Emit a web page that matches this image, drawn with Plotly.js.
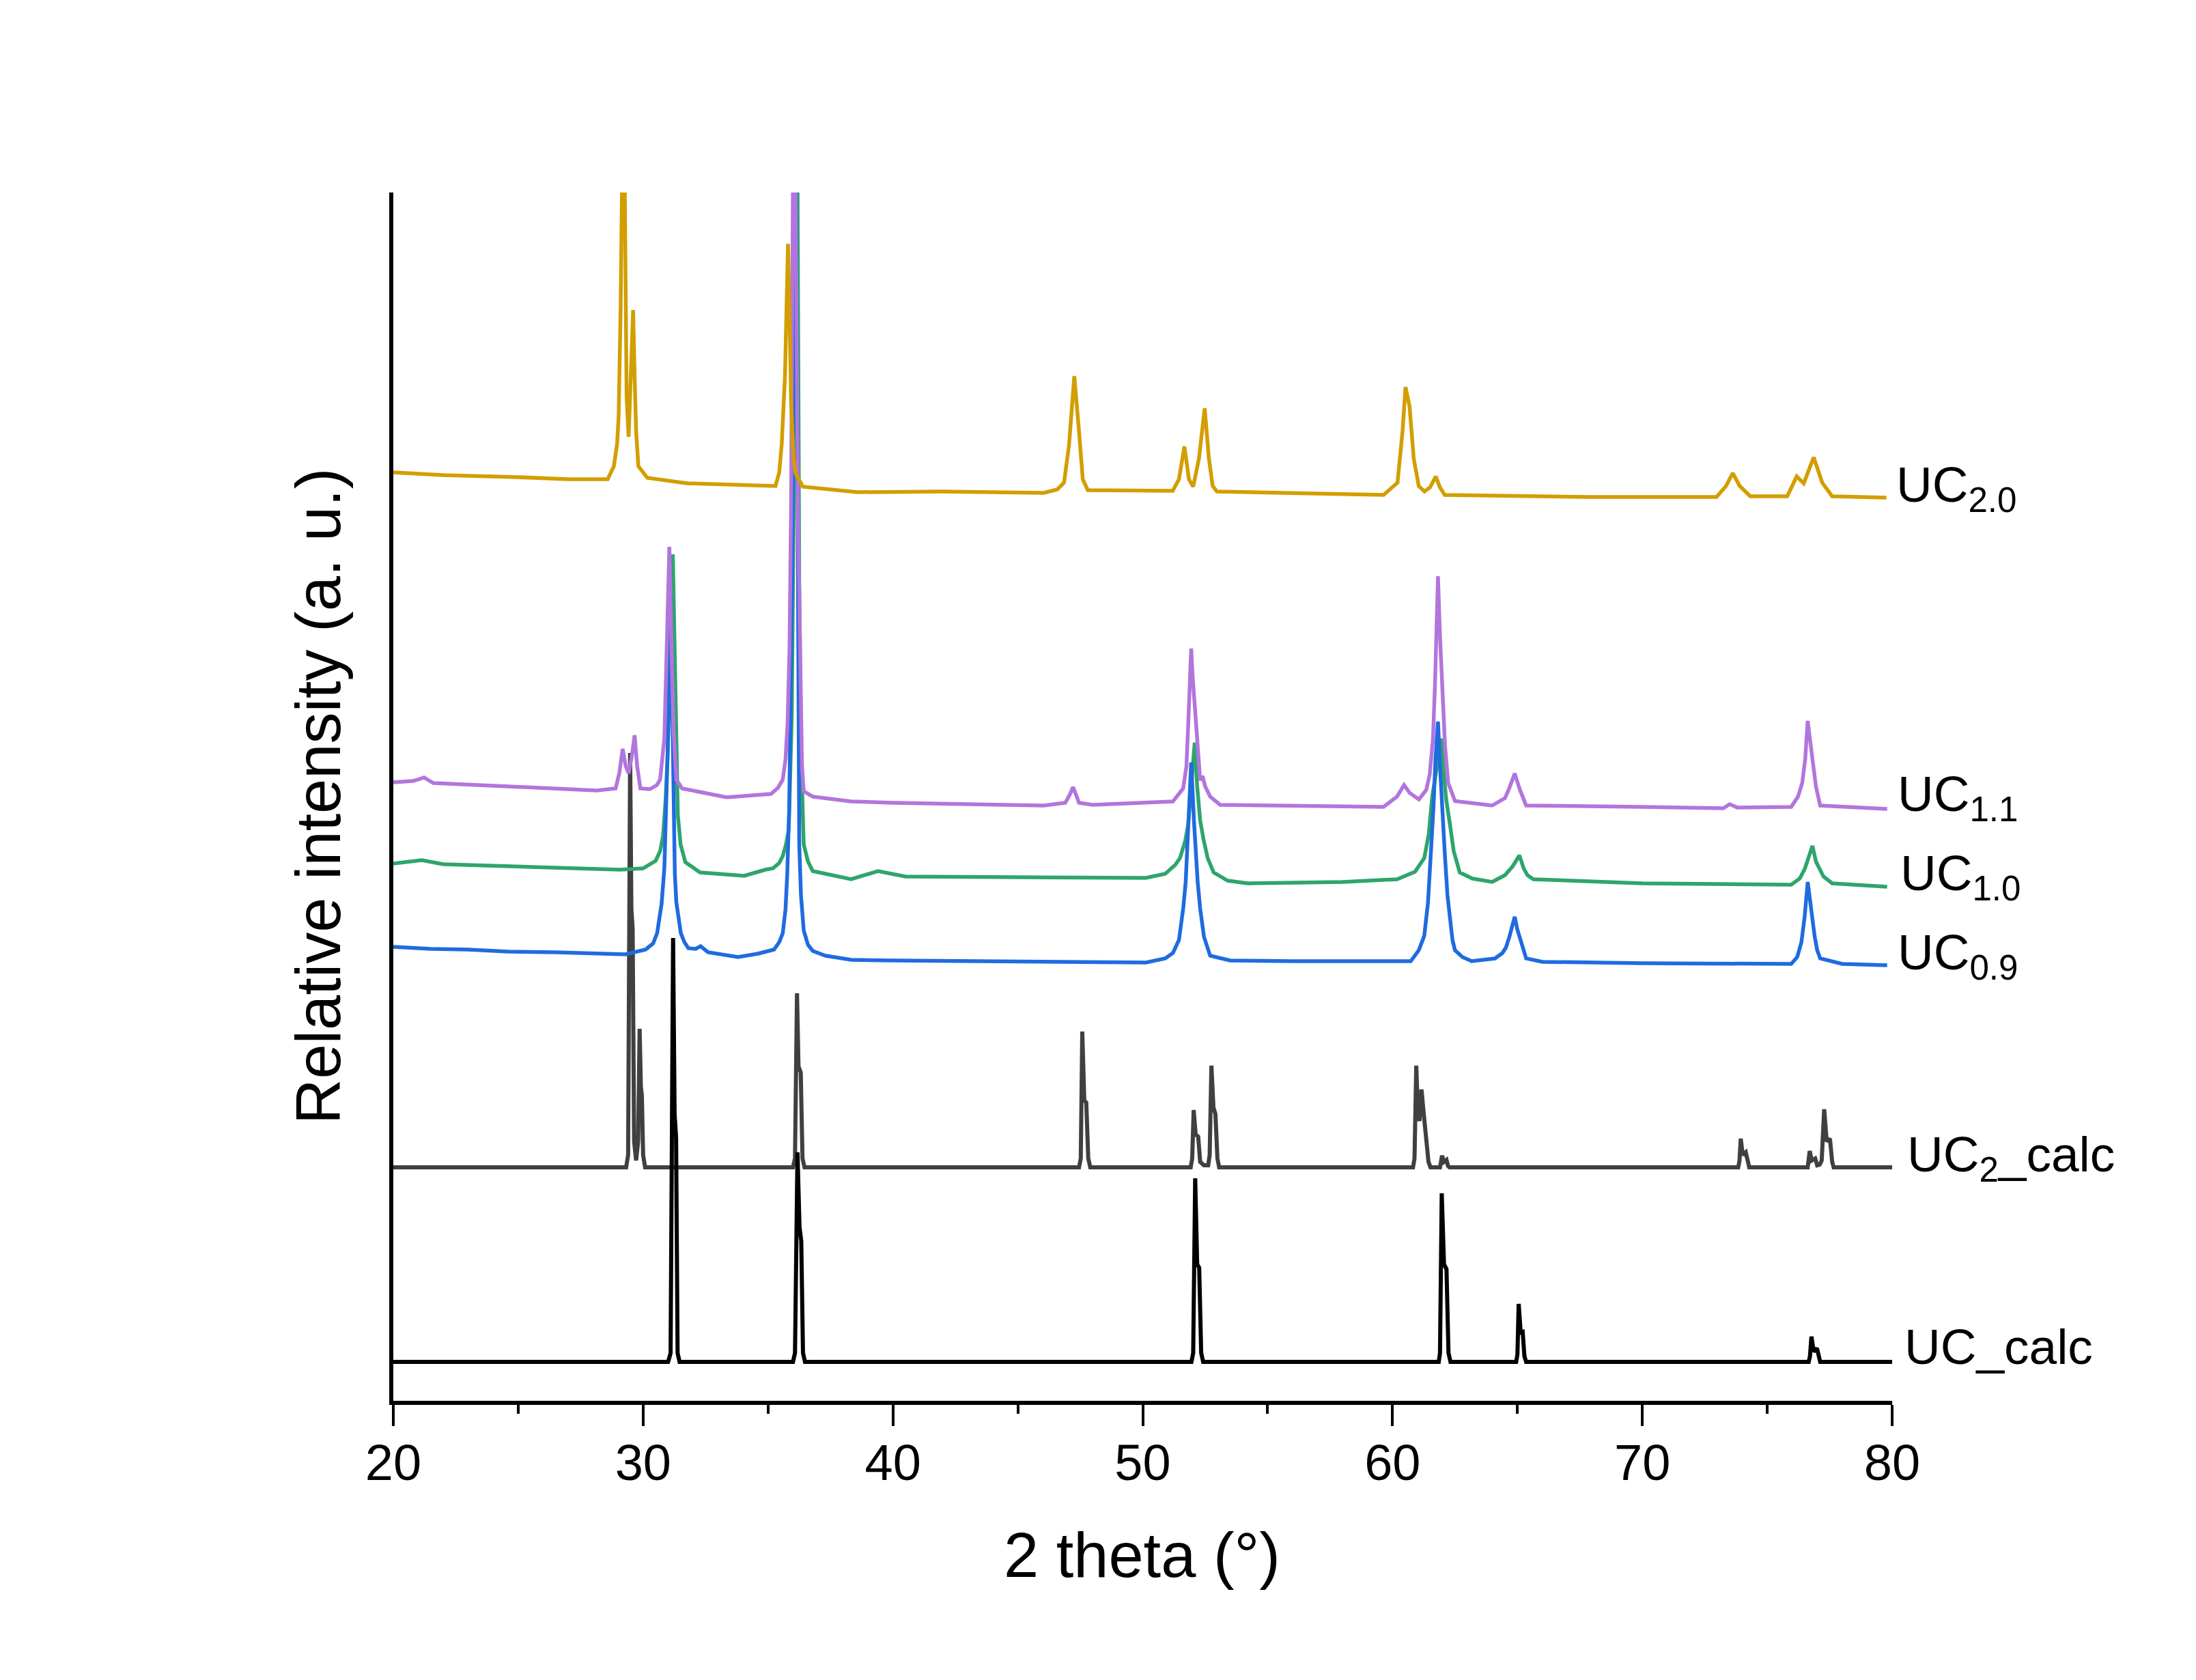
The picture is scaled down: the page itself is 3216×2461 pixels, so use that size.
<!DOCTYPE html>
<html>
<head>
<meta charset="utf-8">
<script src="https://cdn.plot.ly/plotly-3.0.1.min.js"></script>
<style>
html,body{margin:0;padding:0;background:#fff;}
#chart{width:3216px;height:2461px;}
</style>
</head>
<body>
<div id="chart"></div>
<script>
// ---- Data (2θ in degrees, intensity in arbitrary offset units) ----
const xTickVals = [20, 30, 40, 50, 60, 70, 80];
const xTickText = ["20", "30", "40", "50", "60", "70", "80"];

// UC_calc (black)
const ucCalcX = [20, 31.00, 31.10, 31.20, 31.26, 31.32, 31.38, 31.46, 36.00, 36.08, 36.18, 36.26, 36.33, 36.40, 36.48,
  51.95, 52.02, 52.10, 52.18, 52.26, 52.34, 52.42, 61.85, 61.90, 61.97, 62.06, 62.16, 62.24, 62.32,
  64.95, 65.00, 65.05, 65.13, 65.21, 65.28, 65.35, 76.66, 76.71, 76.77, 76.86, 76.99, 77.06, 77.12, 80];
const ucCalcY = [57, 57, 70, 678, 420, 386, 70, 57, 57, 70, 364, 255, 234, 70, 57,
  57, 70, 326, 200, 195, 70, 57, 57, 70, 304, 200, 193, 70, 57,
  57, 68, 142, 100, 101, 65, 57, 57, 65, 94, 72, 77, 62, 57, 57];

// UC2_calc (dark grey)
const uc2CalcX = [20, 29.32, 29.40, 29.48, 29.53, 29.58, 29.64, 29.72, 29.80, 29.86, 29.91, 29.95, 30.00, 30.08,
  36.00, 36.08, 36.16, 36.22, 36.31, 36.38, 36.46,
  47.45, 47.52, 47.58, 47.66, 47.74, 47.82, 47.90,
  51.92, 51.98, 52.04, 52.12, 52.22, 52.30, 52.45, 52.62, 52.68, 52.75, 52.83, 52.91, 52.99, 53.06,
  60.82, 60.88, 60.95, 61.02, 61.08, 61.16, 61.25, 61.36, 61.44, 61.52,
  61.90, 61.94, 61.98, 62.06, 62.16, 62.22, 62.28,
  73.84, 73.89, 73.94, 74.02, 74.14, 74.22, 74.28,
  76.62, 76.66, 76.70, 76.78, 76.92, 77.00, 77.10, 77.18, 77.28, 77.38, 77.51, 77.60, 77.66, 80];
const uc2CalcY = [342, 342, 360, 949, 720, 692, 380, 352, 380, 545, 460, 447, 360, 342,
  342, 355, 597, 490, 481, 355, 342,
  342, 355, 541, 440, 437, 355, 342,
  342, 355, 426, 390, 387, 350, 345, 345, 360, 491, 430, 420, 355, 342,
  342, 355, 491, 420, 410, 456, 420, 385, 350, 342,
  342, 350, 359, 350, 353, 344, 342,
  342, 352, 384, 360, 364, 350, 342,
  342, 352, 366, 352, 355, 345, 346, 352, 427, 380, 384, 350, 342, 342];

// UC0.9 (blue)
const uc09X = [20.0, 21.5, 23.0, 24.6, 26.5, 28.0, 29.3, 30.1, 30.40, 30.56, 30.74, 30.85, 30.92, 31.02, 31.10, 31.18, 31.23,
  31.27, 31.33, 31.40, 31.51, 31.65, 31.81, 32.10, 32.30, 32.60, 33.80, 34.60, 35.24, 35.45, 35.59, 35.70, 35.77, 35.85, 35.90,
  35.96, 36.00, 36.05, 36.12, 36.18, 36.22, 36.25, 36.32, 36.43, 36.60, 36.79, 37.30, 38.33, 40, 45, 50.13,
  50.90, 51.21, 51.45, 51.62, 51.72, 51.80, 51.87, 51.94, 52.05, 52.12, 52.20, 52.30, 52.45, 52.70, 53.5, 56, 60.73,
  61.05, 61.27, 61.42, 61.54, 61.64, 61.72, 61.82, 61.90, 61.96, 62.02, 62.09, 62.20, 62.30, 62.40, 62.50, 62.80, 63.17,
  64.1, 64.40, 64.54, 64.68, 64.80, 64.89, 65.00, 65.12, 65.22, 65.35, 66, 70, 75.96, 76.20, 76.37, 76.50, 76.62, 76.70,
  76.81, 76.90, 77.00, 77.12, 78, 79.8];
const uc09Y = [665, 662, 661, 658, 657, 655, 654, 661, 670, 685, 728, 780, 858, 1000, 1180, 1000, 860,
  772, 730, 710, 685, 672, 663, 662, 666, 657, 650, 655, 661, 672, 685, 720, 772, 870, 1000,
  1200, 1400, 1800, 1800, 1300, 1000, 815, 740, 689, 668, 659, 652, 646, 645, 643, 642,
  648, 656, 675, 721, 760, 820, 870, 935, 850, 800, 760, 721, 680, 652, 645, 644, 644,
  660, 681, 730, 803, 870, 940, 995, 930, 880, 850, 803, 740, 700, 675, 660, 650, 644,
  648, 656, 664, 680, 698, 709, 690, 675, 660, 648, 643, 641, 640, 650, 672, 710, 760, 735,
  705, 680, 660, 648, 640, 638];

// UC1.0 (green)
const uc10X = [20.0, 21.14, 22, 24.6, 27, 29.07, 30.0, 30.5, 30.68, 30.8, 30.90, 30.98, 31.05, 31.10, 31.19, 31.28, 31.34,
  31.39, 31.5, 31.69, 32.28, 34.05, 34.89, 35.2, 35.45, 35.59, 35.72, 35.83, 35.95, 36.05, 36.10, 36.18, 36.25, 36.32, 36.43,
  36.6, 36.79, 38.33, 39.4, 40.5, 45, 50.13, 50.9, 51.30, 51.49, 51.70, 51.82, 51.98, 52.08, 52.18, 52.30, 52.43, 52.60,
  52.84, 53.4, 54.20, 58, 60.18, 60.90, 61.27, 61.45, 61.59, 61.80, 61.95, 62.05, 62.15, 62.30, 62.45, 62.69, 63.2, 63.99,
  64.50, 64.81, 65.08, 65.25, 65.40, 65.63, 70, 75.96, 76.30, 76.50, 76.81, 76.95, 77.05, 77.25, 77.60, 79.8];
const uc10Y = [787, 792, 786, 783, 780, 778, 780, 791, 805, 828, 880, 945, 1050, 1150, 1240, 1050, 930,
  858, 815, 789, 774, 769, 778, 780, 788, 798, 815, 837, 1000, 1400, 1800, 1800, 1200, 950, 815,
  790, 776, 764, 776, 768, 767, 766, 772, 785, 795, 820, 844, 930, 964, 900, 850, 823, 795,
  774, 762, 758, 760, 764, 775, 795, 830, 885, 940, 970, 920, 880, 844, 805, 774, 765, 760,
  770, 783, 799, 780, 770, 764, 758, 756, 765, 779, 813, 790, 783, 768, 758, 753];

// UC1.1 (purple)
const uc11X = [20.0, 20.8, 21.23, 21.6, 24.58, 28.14, 28.9, 29.05, 29.18, 29.30, 29.42, 29.55, 29.66, 29.76, 29.89, 30.27,
  30.55, 30.68, 30.85, 30.95, 31.05, 31.14, 31.22, 31.33, 31.56, 33.34, 35.12, 35.40, 35.59, 35.70, 35.78, 35.86, 35.92,
  36.00, 36.10, 36.20, 36.30, 36.36, 36.43, 36.8, 38.33, 40, 46.04, 46.9, 47.08, 47.21, 47.33, 47.45, 48, 51.21, 51.62,
  51.75, 51.82, 51.94, 52.00, 52.08, 52.20, 52.30, 52.40, 52.50, 52.70, 53.1, 59.64, 60.18, 60.46, 60.70, 61.06, 61.35,
  61.49, 61.62, 61.70, 61.82, 61.90, 61.98, 62.10, 62.23, 62.50, 63.99, 64.50, 64.67, 64.89, 65.10, 65.35, 70, 73.24, 73.5,
  73.8, 75.96, 76.23, 76.40, 76.52, 76.62, 76.72, 76.81, 76.95, 77.12, 79.8];
const uc11Y = [906, 908, 913, 905, 900, 894, 897, 920, 955, 930, 919, 945, 975, 930, 897, 896,
  902, 910, 970, 1100, 1251, 1100, 980, 910, 897, 884, 889, 898, 910, 940, 990, 1100, 1300,
  1800, 1800, 1300, 1000, 930, 893, 885, 878, 876, 872, 876, 888, 899, 888, 876, 873, 878, 897,
  930, 990, 1102, 1060, 1015, 950, 909, 915, 900, 885, 873, 870, 885, 902, 890, 881, 895,
  918, 970, 1050, 1208, 1120, 1060, 960, 905, 878.5, 872, 883, 897, 919, 895, 872, 870, 868, 874,
  869, 870, 885, 905, 940, 996, 960, 940, 900, 872, 867];

// UC2.0 (gold)
const uc20X = [20.0, 22, 25, 27, 28.58, 28.83, 28.96, 29.02, 29.10, 29.16, 29.26, 29.30, 29.34, 29.42, 29.52, 29.60, 29.66,
  29.72, 29.81, 30.17, 31.76, 35.3, 35.45, 35.55, 35.68, 35.76, 35.80, 35.86, 35.92, 36.02, 36.10, 36.40, 38.59, 42, 46.04,
  46.58, 46.85, 47.05, 47.26, 47.45, 47.60, 47.80, 51.2, 51.45, 51.67, 51.85, 52.02, 52.25, 52.48, 52.65, 52.8, 52.97,
  59.64, 60.2, 60.40, 60.52, 60.68, 60.85, 61.05, 61.28, 61.50, 61.73, 61.90, 62.09, 67.80, 72.97, 73.35, 73.62, 73.9,
  74.32, 75.8, 76.18, 76.46, 76.86, 77.2, 77.60, 79.77];
const uc20Y = [1360, 1356, 1353, 1350, 1350, 1369, 1402, 1442, 1600, 1800, 1800, 1572, 1469, 1412, 1500, 1598, 1500,
  1420, 1369, 1352, 1344, 1340, 1360, 1402, 1502, 1650, 1695, 1600, 1469, 1380, 1359, 1339, 1331, 1332, 1330,
  1335, 1345, 1400, 1501, 1420, 1350, 1334, 1333, 1350, 1398, 1350, 1339, 1380, 1454, 1380, 1340, 1332,
  1327, 1345, 1420, 1485, 1457, 1380, 1340, 1332, 1338, 1354, 1338, 1327, 1324, 1324, 1340, 1359, 1340,
  1325, 1325, 1354, 1344, 1382, 1345, 1325, 1323];

// Curve labels
const labelText = ["UC<sub>2.0</sub>", "UC<sub>1.1</sub>", "UC<sub>1.0</sub>", "UC<sub>0.9</sub>", "UC<sub>2</sub>_calc", "UC_calc"];
const labelXpx = [2775, 2777, 2781, 2777, 2791, 2787];   // left edge, page px
const labelY = [1337, 884, 768, 652, 356, 80];           // data units

const xTitle = "2 theta (°)";
const yTitle = "Relative intensity (a. u.)";

// ---- Styles ----
const FONT = "'Liberation Sans', Arial, sans-serif";
const PL = 576, PW = 2195, PB = 2052, PH = 1770;
const colors = {
  calc: "#000000", calc2: "#404040",
  uc09: "#1F6BE0", uc10: "#2EA56B", uc11: "#B275DD", uc20: "#D29E00"
};

function line(x, y, color, width, name) {
  return {x: x, y: y, type: "scatter", mode: "lines", name: name,
    line: {color: color, width: width, shape: "linear"}, hoverinfo: "skip"};
}

const traces = [
  line(uc2CalcX, uc2CalcY, colors.calc2, 6, "UC2_calc"),
  line(ucCalcX, ucCalcY, colors.calc, 6, "UC_calc"),
  line(uc10X, uc10Y, colors.uc10, 5.5, "UC1.0"),
  line(uc09X, uc09Y, colors.uc09, 5.5, "UC0.9"),
  line(uc11X, uc11Y, colors.uc11, 5.5, "UC1.1"),
  line(uc20X, uc20Y, colors.uc20, 5.5, "UC2.0")
];

const annotations = labelText.map((t, i) => ({
  text: t, x: (labelXpx[i] - PL) / PW, y: labelY[i], xref: "paper", yref: "y",
  xanchor: "left", yanchor: "middle", showarrow: false,
  font: {family: FONT, size: 73, color: "#000"}
}));
annotations.push({
  text: xTitle, xref: "paper", yref: "paper", x: (1672 - PL) / PW, y: (PB - 2278) / PH,
  xanchor: "center", yanchor: "middle", showarrow: false,
  font: {family: FONT, size: 92, color: "#000"}
});
annotations.push({
  text: yTitle, xref: "paper", yref: "paper", x: (466 - PL) / PW, y: (PB - 1167) / PH,
  xanchor: "center", yanchor: "middle", showarrow: false, textangle: -90,
  font: {family: FONT, size: 92, color: "#000"}
});

const layout = {
  width: 3216, height: 2461,
  margin: {l: 576, r: 445, t: 282, b: 409, pad: 0},
  paper_bgcolor: "#ffffff", plot_bgcolor: "#ffffff",
  showlegend: false,
  font: {family: FONT, color: "#000"},
  xaxis: {
    range: [20, 80], showline: true, linewidth: 6, linecolor: "#000",
    ticks: "outside", ticklen: 31, tickwidth: 4, tickcolor: "#000",
    tickmode: "array", tickvals: xTickVals, ticktext: xTickText,
    tickfont: {family: FONT, size: 74, color: "#000"},
    ticklabelstandoff: -10,
    showgrid: false, zeroline: false, fixedrange: true,
    minor: {tickmode: "linear", tick0: 20, dtick: 5, ticks: "outside", ticklen: 13, tickwidth: 4, tickcolor: "#000", showgrid: false}
  },
  yaxis: {
    range: [0, 1770], showline: true, linewidth: 6, linecolor: "#000",
    ticks: "", showticklabels: false, showgrid: false, zeroline: false, fixedrange: true
  },
  annotations: annotations
};

Plotly.newPlot("chart", traces, layout, {staticPlot: true, displayModeBar: false});
</script>
</body>
</html>
